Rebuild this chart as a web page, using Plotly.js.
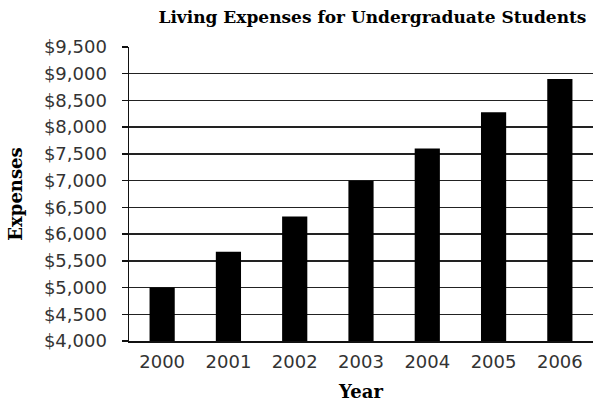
<!DOCTYPE html>
<html>
<head>
<meta charset="utf-8">
<script src="https://cdn.plot.ly/plotly-3.0.1.min.js"></script>
<style>html,body{margin:0;padding:0;background:#fff;}#chart{width:594px;height:402px;}</style>
</head>
<body>
<div id="chart"></div>
<script>
var years = ['2000', '2001', '2002', '2003', '2004', '2005', '2006'];
var expenses = [5000, 5670, 6330, 7000, 7600, 8280, 8900];
var gridTicks = [4000, 4500, 5000, 5500, 6000, 6500, 7000, 7500, 8000, 8500, 9000];
var labelTicks = [4000, 4500, 5000, 5500, 6000, 6500, 7000, 7500, 8000, 8500, 9000, 9500];
var labelText = ['$4,000', '$4,500', '$5,000', '$5,500', '$6,000', '$6,500', '$7,000', '$7,500', '$8,000', '$8,500', '$9,000', '$9,500'];

var serif = '"DejaVu Serif", "Liberation Serif", serif';
var sans = '"DejaVu Sans", "Liberation Sans", Arial, sans-serif';

var data = [{
  type: 'bar',
  x: years,
  y: expenses,
  marker: {color: '#000000', line: {width: 0}},
  hoverinfo: 'x+y'
}];

var layout = {
  width: 594,
  height: 402,
  margin: {l: 129, r: 1, t: 47, b: 61},
  paper_bgcolor: '#ffffff',
  plot_bgcolor: '#ffffff',
  bargap: 0.62,
  showlegend: false,
  title: {
    text: '<b>Living Expenses for Undergraduate Students</b>',
    font: {family: serif, size: 17, color: '#000'},
    x: 0.627, xanchor: 'center', y: 0.958, yanchor: 'middle'
  },
  xaxis: {
    type: 'category',
    showgrid: false,
    showline: true,
    linecolor: '#111',
    linewidth: 1.5,
    ticks: '',
    ticklabelstandoff: 4,
    tickfont: {family: sans, size: 18, color: '#333'},
    title: {text: '<b>Year</b>', font: {family: serif, size: 18, color: '#000'}, standoff: 14},
    fixedrange: true
  },
  yaxis: {
    range: [4000, 9500],
    tickvals: gridTicks,
    showticklabels: false,
    showgrid: true,
    gridcolor: '#222',
    gridwidth: 1.5,
    zeroline: false,
    showline: false,
    ticks: '',
    fixedrange: true
  },
  yaxis2: {
    overlaying: 'y',
    side: 'left',
    range: [4000, 9500],
    tickvals: labelTicks,
    ticktext: labelText,
    showgrid: false,
    zeroline: false,
    showline: true,
    linecolor: '#111',
    linewidth: 1.5,
    ticks: 'outside',
    ticklen: 6,
    tickcolor: '#111',
    tickwidth: 1.5,
    ticklabelstandoff: 11,
    tickfont: {family: sans, size: 18, color: '#333'},
    title: {text: '<b>Expenses</b>', font: {family: serif, size: 18, color: '#000'}, standoff: 16},
    fixedrange: true
  }
};

data.push({type: 'scatter', x: [years[0]], y: [4000], yaxis: 'y2', mode: 'markers', marker: {opacity: 0}, hoverinfo: 'skip', showlegend: false});

Plotly.newPlot('chart', data, layout, {displayModeBar: false, staticPlot: true});
</script>
</body>
</html>
